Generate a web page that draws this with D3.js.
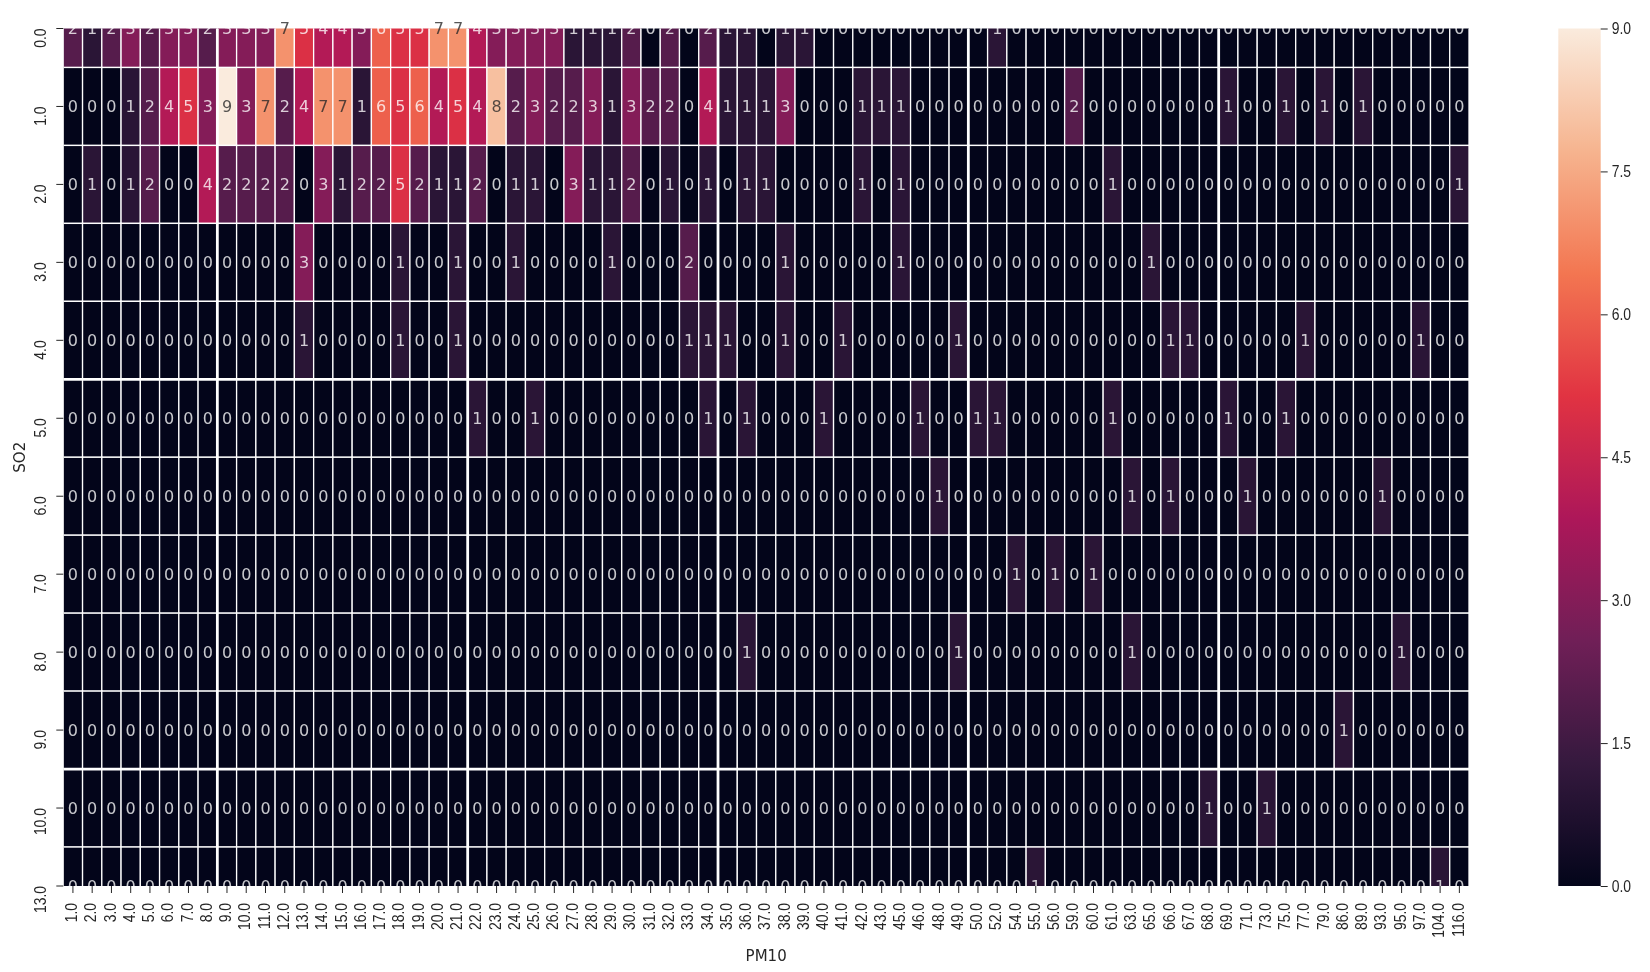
<!DOCTYPE html>
<html>
  <head>
    <meta charset="utf-8">
    <script src="https://cdn.jsdelivr.net/npm/d3@7"></script>
    <style>
      body { margin: 0; background: #fff; }
      svg { display: block; font-family: "DejaVu Sans", sans-serif; filter: blur(0.45px); }
      .tick line { stroke: #262626; }
      .tick text { fill: #262626; font-size: 16px; }
    </style>
  </head>
  <body>
    <div id="heatmap"></div>
    <script type="text/javascript">
      var pmLabels = ["1.0","2.0","3.0","4.0","5.0","6.0","7.0","8.0","9.0","10.0","11.0","12.0","13.0","14.0","15.0","16.0","17.0","18.0","19.0","20.0","21.0","22.0","23.0","24.0","25.0","26.0","27.0","28.0","29.0","30.0","31.0","32.0","33.0","34.0","35.0","36.0","37.0","38.0","39.0","40.0","41.0","42.0","43.0","45.0","46.0","48.0","49.0","50.0","52.0","54.0","55.0","56.0","59.0","60.0","61.0","63.0","65.0","66.0","67.0","68.0","69.0","71.0","73.0","75.0","77.0","79.0","86.0","89.0","93.0","95.0","97.0","104.0","116.0"];
      var so2Labels = ["0.0","1.0","2.0","3.0","4.0","5.0","6.0","7.0","8.0","9.0","10.0","13.0"];

      // counts per PM10 column, one list for each SO2 row
      var so2_0 = [2,1,2,3,2,3,3,2,3,3, 3,7,5,4,4,3,6,5,5,7, 7,4,3,3,3,3,1,1,1,2, 0,2,0,2,1,1,0,1,1,0, 0,0,0,0,0,0,0,0,1,0, 0,0,0,0,0,0,0,0,0,0, 0,0,0,0,0,0,0,0,0,0, 0,0,0];
      var so2_1 = [0,0,0,1,2,4,5,3,9,3, 7,2,4,7,7,1,6,5,6,4, 5,4,8,2,3,2,2,3,1,3, 2,2,0,4,1,1,1,3,0,0, 0,1,1,1,0,0,0,0,0,0, 0,0,2,0,0,0,0,0,0,0, 1,0,0,1,0,1,0,1,0,0, 0,0,0];
      var so2_2 = [0,1,0,1,2,0,0,4,2,2, 2,2,0,3,1,2,2,5,2,1, 1,2,0,1,1,0,3,1,1,2, 0,1,0,1,0,1,1,0,0,0, 0,1,0,1,0,0,0,0,0,0, 0,0,0,0,1,0,0,0,0,0, 0,0,0,0,0,0,0,0,0,0, 0,0,1];
      var so2_3 = [0,0,0,0,0,0,0,0,0,0, 0,0,3,0,0,0,0,1,0,0, 1,0,0,1,0,0,0,0,1,0, 0,0,2,0,0,0,0,1,0,0, 0,0,0,1,0,0,0,0,0,0, 0,0,0,0,0,0,1,0,0,0, 0,0,0,0,0,0,0,0,0,0, 0,0,0];
      var so2_4 = [0,0,0,0,0,0,0,0,0,0, 0,0,1,0,0,0,0,1,0,0, 1,0,0,0,0,0,0,0,0,0, 0,0,1,1,1,0,0,1,0,0, 1,0,0,0,0,0,1,0,0,0, 0,0,0,0,0,0,0,1,1,0, 0,0,0,0,1,0,0,0,0,0, 1,0,0];
      var so2_5 = [0,0,0,0,0,0,0,0,0,0, 0,0,0,0,0,0,0,0,0,0, 0,1,0,0,1,0,0,0,0,0, 0,0,0,1,0,1,0,0,0,1, 0,0,0,0,1,0,0,1,1,0, 0,0,0,0,1,0,0,0,0,0, 1,0,0,1,0,0,0,0,0,0, 0,0,0];
      var so2_6 = [0,0,0,0,0,0,0,0,0,0, 0,0,0,0,0,0,0,0,0,0, 0,0,0,0,0,0,0,0,0,0, 0,0,0,0,0,0,0,0,0,0, 0,0,0,0,0,1,0,0,0,0, 0,0,0,0,0,1,0,1,0,0, 0,1,0,0,0,0,0,0,1,0, 0,0,0];
      var so2_7 = [0,0,0,0,0,0,0,0,0,0, 0,0,0,0,0,0,0,0,0,0, 0,0,0,0,0,0,0,0,0,0, 0,0,0,0,0,0,0,0,0,0, 0,0,0,0,0,0,0,0,0,1, 0,1,0,1,0,0,0,0,0,0, 0,0,0,0,0,0,0,0,0,0, 0,0,0];
      var so2_8 = [0,0,0,0,0,0,0,0,0,0, 0,0,0,0,0,0,0,0,0,0, 0,0,0,0,0,0,0,0,0,0, 0,0,0,0,0,1,0,0,0,0, 0,0,0,0,0,0,1,0,0,0, 0,0,0,0,0,1,0,0,0,0, 0,0,0,0,0,0,0,0,0,1, 0,0,0];
      var so2_9 = [0,0,0,0,0,0,0,0,0,0, 0,0,0,0,0,0,0,0,0,0, 0,0,0,0,0,0,0,0,0,0, 0,0,0,0,0,0,0,0,0,0, 0,0,0,0,0,0,0,0,0,0, 0,0,0,0,0,0,0,0,0,0, 0,0,0,0,0,0,1,0,0,0, 0,0,0];
      var so2_10 = [0,0,0,0,0,0,0,0,0,0, 0,0,0,0,0,0,0,0,0,0, 0,0,0,0,0,0,0,0,0,0, 0,0,0,0,0,0,0,0,0,0, 0,0,0,0,0,0,0,0,0,0, 0,0,0,0,0,0,0,0,0,1, 0,0,1,0,0,0,0,0,0,0, 0,0,0];
      var so2_13 = [0,0,0,0,0,0,0,0,0,0, 0,0,0,0,0,0,0,0,0,0, 0,0,0,0,0,0,0,0,0,0, 0,0,0,0,0,0,0,0,0,0, 0,0,0,0,0,0,0,0,0,0, 1,0,0,0,0,0,0,0,0,0, 0,0,0,0,0,0,0,0,0,0, 0,1,0];
      var rows = [so2_0, so2_1, so2_2, so2_3, so2_4, so2_5, so2_6, so2_7, so2_8, so2_9, so2_10, so2_13];

      var legendTicks = [0, 1.5, 3, 4.5, 6, 7.5, 9];

      // rocket colormap
      var rocketStops = ["#03051a","#35193e","#701f57","#ad1759","#e13342","#f37651","#f6b48f","#faebdd"];

      // grid lines that came out thicker in the original raster
      var heavyCols = ["9.0","22.0","35.0","50.0","69.0"];
      var heavyRows = ["5.0","10.0"];

      var left = 63.3, right = 1469, top_ = 28.5, bottom = 886,
          rowHeight = (bottom - top_) / 11,
          barLeft = 1558.3, barRight = 1600.7;

      var svg = d3.select("#heatmap").append("svg")
          .attr("width", 1650)
          .attr("height", 972);

      var x = d3.scaleBand().domain(pmLabels).range([left, right]);
      // first and last rows are cut in half by the axes box
      var y = d3.scaleBand().domain(so2Labels).range([top_ - rowHeight / 2, bottom + rowHeight / 2]);
      var color = d3.scaleLinear()
          .domain(rocketStops.map(function(d, i) { return 9 * i / (rocketStops.length - 1); }))
          .range(rocketStops);

      var cells = [];
      rows.forEach(function(row, r) {
        row.forEach(function(v, c) {
          cells.push({ so2: so2Labels[r], pm: pmLabels[c], value: v });
        });
      });

      svg.append("clipPath").attr("id", "plot")
        .append("rect")
          .attr("x", left).attr("y", top_)
          .attr("width", right - left).attr("height", bottom - top_);

      var plot = svg.append("g").attr("clip-path", "url(#plot)");

      plot.selectAll(".cell")
        .data(cells)
        .enter().append("rect")
          .attr("class", "cell")
          .attr("x", function(d) { return x(d.pm); })
          .attr("y", function(d) { return y(d.so2); })
          .attr("width", x.bandwidth())
          .attr("height", y.bandwidth())
          .style("fill", function(d) { return color(d.value); })
          .style("stroke", "#fff")
          .style("stroke-width", 1.3);

      plot.selectAll(".heavyCol")
        .data(heavyCols)
        .enter().append("line")
          .attr("class", "heavyCol")
          .attr("x1", function(d) { return x(d); })
          .attr("x2", function(d) { return x(d); })
          .attr("y1", top_)
          .attr("y2", bottom)
          .style("stroke", "#fff")
          .style("stroke-width", 2.8);

      plot.selectAll(".heavyRow")
        .data(heavyRows)
        .enter().append("line")
          .attr("class", "heavyRow")
          .attr("x1", left)
          .attr("x2", right)
          .attr("y1", function(d) { return y(d); })
          .attr("y2", function(d) { return y(d); })
          .style("stroke", "#fff")
          .style("stroke-width", 2.8);

      // annotations are not clipped, white ones just vanish on the page
      svg.append("g").selectAll(".count")
        .data(cells)
        .enter().append("text")
          .attr("class", "count")
          .attr("x", function(d) { return x(d.pm) + x.bandwidth() / 2; })
          .attr("y", function(d) { return y(d.so2) + y.bandwidth() / 2; })
          .attr("dy", ".35em")
          .style("text-anchor", "middle")
          .style("font-size", "16px")
          .style("fill", function(d) { return d.value >= 7 ? "#262626" : "#fff"; })
          .style("fill-opacity", 0.78)
          .text(function(d) { return d.value; });

      var xAxis = svg.append("g")
          .attr("transform", "translate(0," + bottom + ")")
          .call(d3.axisBottom(x).tickSize(7).tickSizeOuter(0));
      xAxis.select(".domain").remove();
      xAxis.selectAll("text")
          .attr("x", 0).attr("y", 0).attr("dy", ".32em")
          .attr("transform", "translate(-1,17) rotate(-90) scale(.87,1)")
          .style("text-anchor", "end");

      var yAxis = svg.append("g")
          .attr("transform", "translate(" + left + ",0)")
          .call(d3.axisLeft(y).tickSize(7).tickSizeOuter(0));
      yAxis.select(".domain").remove();
      yAxis.selectAll("text")
          .attr("x", 0).attr("y", 0).attr("dy", ".32em")
          .attr("transform", "translate(-22,0) rotate(-90) scale(.87,1)")
          .style("text-anchor", "end");

      svg.append("text")
          .attr("x", (left + right) / 2)
          .attr("y", 961)
          .style("text-anchor", "middle")
          .style("font-size", "15px")
          .style("fill", "#262626")
          .text("PM10");
      svg.append("text")
          .attr("transform", "translate(25," + (top_ + bottom) / 2 + ") rotate(-90)")
          .style("text-anchor", "middle")
          .style("font-size", "15px")
          .style("fill", "#262626")
          .text("SO2");

      // colorbar
      var barScale = d3.scaleLinear().domain([0, 9]).range([bottom, top_]);
      var gradient = svg.append("linearGradient")
          .attr("id", "rocket")
          .attr("x1", 0).attr("y1", 1).attr("x2", 0).attr("y2", 0);
      gradient.selectAll("stop")
        .data(rocketStops)
        .enter().append("stop")
          .attr("offset", function(d, i) { return i / (rocketStops.length - 1); })
          .attr("stop-color", function(d) { return d; });
      svg.append("rect")
          .attr("x", barLeft)
          .attr("y", barScale(9))
          .attr("width", barRight - barLeft)
          .attr("height", barScale(0) - barScale(9))
          .style("fill", "url(#rocket)");

      var barAxis = svg.append("g")
          .attr("transform", "translate(" + barRight + ",0)")
          .call(d3.axisRight(barScale).tickValues(legendTicks).tickFormat(d3.format(".1f")).tickSize(7));
      barAxis.select(".domain").remove();
      barAxis.selectAll("text")
          .attr("x", 0)
          .attr("transform", "translate(11,0) scale(.87,1)");
    </script>
  </body>
</html>
